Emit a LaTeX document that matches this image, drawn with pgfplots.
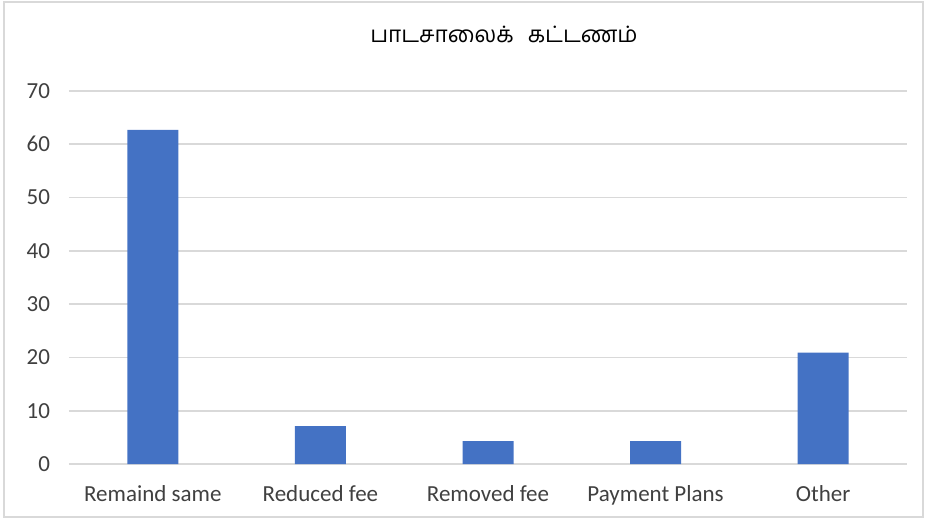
\documentclass[border=0pt]{standalone}
\usepackage{pgfplots}
\pgfplotsset{compat=1.18}
\usepackage{fontspec}
\setmainfont{Carlito}
\newfontfamily\tamilfont[Script=Tamil]{Hind Madurai}
\definecolor{barblue}{HTML}{4472C4}
\definecolor{gridgray}{HTML}{D9D9D9}
\definecolor{labelgray}{HTML}{404040}
\begin{document}
\begin{tikzpicture}
    % page size: 926x520 px at 0.5pt per px
    \useasboundingbox (-34.5pt,-28pt) rectangle (428.5pt,232pt);
    \draw[gridgray, line width=0.8pt] (-32.5pt,-26.5pt) rectangle (427pt,231pt);
    \begin{axis}[
        scale only axis,
        width=419pt,
        height=186.5pt,
        xmin=-0.5, xmax=4.5,
        ymin=0, ymax=70,
        ytick={0,10,...,70},
        xtick=data,
        xticklabels={Remaind same, Reduced fee, Removed fee, Payment Plans, Other},
        ymajorgrids,
        grid style={gridgray, line width=0.8pt},
        axis line style={draw=none},
        major tick length=0pt,
        tick label style={font=\fontsize{11.5}{13.5}\selectfont, text=labelgray},
        /pgf/number format/assume math mode=true,
        yticklabel style={xshift=-6pt},
        xticklabel style={yshift=-7pt},
        clip=false
    ]
        \addplot[
            ybar,
            bar width=25.5pt,
            fill=barblue,
            draw=none
        ] coordinates {
            (0,62.7)
            (1,7.1)
            (2,4.3)
            (3,4.3)
            (4,20.9)
        };
    \end{axis}
    \node[font=\tamilfont\fontsize{11.3}{14}\selectfont, text=black] at (217.5pt,215pt) {பாடசாலைக்\hspace{7pt}கட்டணம்};
\end{tikzpicture}
\end{document}
